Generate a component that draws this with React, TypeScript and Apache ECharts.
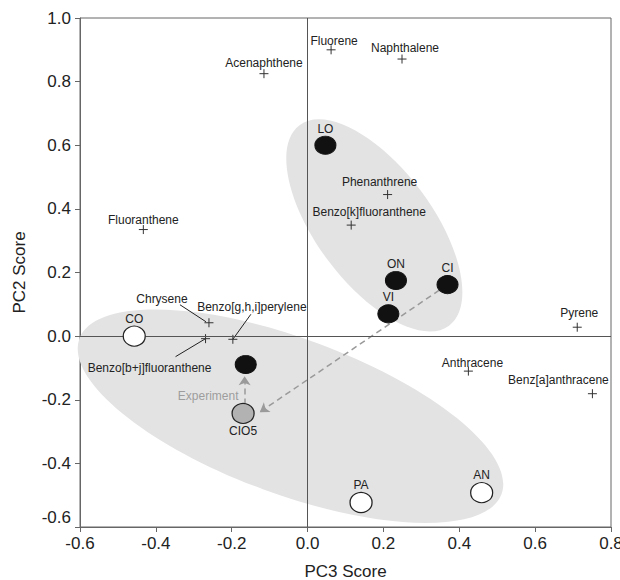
import React, { useEffect, useRef } from "react";
import * as echarts from "echarts";

// ---- Data ----
const compoundNames = [
  "Acenaphthene",
  "Fluorene",
  "Naphthalene",
  "Phenanthrene",
  "Benzo[k]fluoranthene",
  "Fluoranthene",
  "Chrysene",
  "Benzo[g,h,i]perylene",
  "Benzo[b+j]fluoranthene",
  "Pyrene",
  "Anthracene",
  "Benz[a]anthracene",
];
const compoundPC3 = [-0.115, 0.062, 0.249, 0.211, 0.115, -0.433, -0.26, -0.197, -0.269, 0.711, 0.424, 0.751];
const compoundPC2 = [0.825, 0.9, 0.871, 0.445, 0.349, 0.335, 0.042, -0.01, -0.008, 0.028, -0.11, -0.181];

const sampleNames = ["LO", "ON", "CI", "VI", "", "CIO5", "CO", "PA", "AN"];
const samplePC3 = [0.047, 0.233, 0.369, 0.213, -0.163, -0.17, -0.457, 0.141, 0.459];
const samplePC2 = [0.6, 0.175, 0.162, 0.07, -0.089, -0.243, 0.0, -0.523, -0.492];
const sampleGroup = ["dark", "dark", "dark", "dark", "dark", "treated", "light", "light", "light"];

// cluster ellipse centres (data units)
const clusterPC3 = [0.176, -0.045];
const clusterPC2 = [0.348, -0.252];

// arrows (data units)
const arrowFrom = [
  [0.369, 0.162],
  [-0.166, -0.215],
];
const arrowTo = [
  [-0.126, -0.239],
  [-0.166, -0.126],
];
const annotationText = ["Experiment"];
const annotationPC3 = [-0.182];
const annotationPC2 = [-0.189];

const xTicks = { min: -0.6, max: 0.8, interval: 0.2 };
const yTicks = { min: -0.6, max: 1.0, interval: 0.2 };

// ---- Layout / style (not data) ----
const FONT = "'Liberation Sans', Arial, sans-serif";
const TEXT = "#222";
const ellipseShapes = [
  { rx: 125, ry: 58, angle: 53.3 },
  { rx: 225, ry: 78, angle: 20.2 },
];
// label shifts (px) for labels placed above their cross
const compoundLabelOffset: Record<string, [number, number]> = {
  Acenaphthene: [0, 0],
  Fluorene: [3, 2],
  Naphthalene: [3, 0],
  Phenanthrene: [-8, -2],
  "Benzo[k]fluoranthene": [18, -2],
  Fluoranthene: [0, 1],
  Pyrene: [2, -3],
  Anthracene: [4, 3],
  "Benz[a]anthracene": [-34, -3],
};
// label centre offsets (px) from their cross, for labels with leader lines
const leaderOffset: Record<string, [number, number]> = {
  Chrysene: [-47, -24],
  "Benzo[g,h,i]perylene": [19, -32],
  "Benzo[b+j]fluoranthene": [-56, 29],
};
// leader line segment (px, from the cross)
const leaderLine: Record<string, [number, number, number, number]> = {
  Chrysene: [-29, -18, -3, -1],
  "Benzo[g,h,i]perylene": [18, -25, 0, 0],
  "Benzo[b+j]fluoranthene": [-30, 18, 0, 0],
};
const groupStyle: Record<string, any> = {
  dark: { color: "#111", borderColor: "#111", borderWidth: 1, size: [21, 18] },
  treated: { color: "#b2b2b2", borderColor: "#222", borderWidth: 1.2, size: [22, 20] },
  light: { color: "#fff", borderColor: "#222", borderWidth: 1.2, size: [22, 20] },
};

export default function App() {
  const ref = useRef<HTMLDivElement>(null);

  useEffect(() => {
    document.body.style.margin = "0";
    if (!ref.current) return;
    const chart = echarts.init(ref.current, null, { renderer: "svg" });

    const compoundData = compoundNames.map((n, i) => {
      const lead = leaderOffset[n];
      return {
        name: n,
        value: [compoundPC3[i], compoundPC2[i]],
        label: { position: lead ? "inside" : "top" },
      };
    });

    const leaderIdx = compoundNames
      .map((n, i) => (leaderLine[n] ? i : -1))
      .filter((i) => i >= 0);

    const sampleData = sampleNames.map((n, i) => {
      const g = groupStyle[sampleGroup[i]];
      return {
        name: n,
        value: [samplePC3[i], samplePC2[i]],
        symbolSize: g.size,
        itemStyle: { color: g.color, borderColor: g.borderColor, borderWidth: g.borderWidth, opacity: 1 },
        label: { position: n === "CIO5" ? "bottom" : "top" },
      };
    });

    const option: any = {
      animation: false,
      textStyle: { fontFamily: FONT },
      grid: {
        left: 80,
        right: 9,
        top: 18,
        bottom: 53,
        containLabel: false,
        outerBoundsMode: "none",
        show: true,
        borderColor: "#666",
        borderWidth: 1,
        backgroundColor: "transparent",
      },
      xAxis: {
        type: "value",
        min: xTicks.min,
        max: xTicks.max,
        interval: xTicks.interval,
        name: "PC3 Score",
        nameLocation: "middle",
        nameGap: 36,
        nameTextStyle: { fontSize: 17, color: TEXT, fontFamily: FONT },
        axisLine: { show: true, onZero: false, lineStyle: { color: "#666", width: 1 } },
        axisTick: { show: true, inside: false, length: 5, lineStyle: { color: "#666" } },
        axisLabel: {
          fontSize: 17,
          color: TEXT,
          fontFamily: FONT,
          margin: 8,
          formatter: (v: number) => v.toFixed(1),
        },
        splitLine: { show: false },
      },
      yAxis: {
        type: "value",
        min: yTicks.min,
        max: yTicks.max,
        interval: yTicks.interval,
        name: "PC2 Score",
        nameLocation: "middle",
        nameGap: 52,
        nameRotate: 90,
        nameTextStyle: { fontSize: 17, color: TEXT, fontFamily: FONT },
        axisLine: { show: true, onZero: false, lineStyle: { color: "#666", width: 1 } },
        axisTick: { show: true, inside: false, length: 5, lineStyle: { color: "#666" } },
        axisLabel: {
          fontSize: 17,
          color: TEXT,
          fontFamily: FONT,
          margin: 9,
          formatter: (v: number) => {
            const s = v.toFixed(1);
            return v <= yTicks.min + 1e-9 ? `{up|${s}}` : s;
          },
          rich: {
            up: { fontSize: 17, color: TEXT, fontFamily: FONT, padding: [0, 0, 20, 0] },
          },
        },
        splitLine: { show: false },
      },
      series: [
        {
          type: "custom",
          z: 1,
          silent: true,
          data: clusterPC3.map((x, i) => [x, clusterPC2[i]]),
          renderItem: (params: any, api: any) => {
            const c = api.coord([api.value(0), api.value(1)]);
            const e = ellipseShapes[params.dataIndex];
            return {
              type: "ellipse",
              x: c[0],
              y: c[1],
              rotation: (-e.angle * Math.PI) / 180,
              shape: { cx: 0, cy: 0, rx: e.rx, ry: e.ry },
              style: { fill: "#e3e3e3", stroke: null },
            };
          },
        },
        {
          type: "custom",
          z: 2,
          silent: true,
          data: leaderIdx.map((i) => [compoundPC3[i], compoundPC2[i], i]),
          renderItem: (params: any, api: any) => {
            const c = api.coord([api.value(0), api.value(1)]);
            const n = compoundNames[api.value(2)];
            const l = leaderLine[n];
            return {
              type: "line",
              shape: { x1: c[0] + l[0], y1: c[1] + l[1], x2: c[0] + l[2], y2: c[1] + l[3] },
              style: { stroke: "#222", lineWidth: 1 },
            };
          },
        },
        {
          type: "scatter",
          z: 3,
          symbol: "path://M0,5L10,5M5,0L5,10",
          symbolSize: 9,
          itemStyle: { color: "transparent", borderColor: "#333", borderWidth: 1, opacity: 1 },
          label: {
            show: true,
            formatter: "{b}",
            fontSize: 12,
            color: TEXT,
            fontFamily: FONT,
            distance: 0,
          },
          labelLayout: (params: any) => {
            const n = compoundNames[params.dataIndex];
            const o = leaderOffset[n] || compoundLabelOffset[n] || [0, 0];
            return { dx: o[0], dy: o[1] };
          },
          data: compoundData,
          markLine: {
            silent: true,
            symbol: ["none", "none"],
            label: { show: false },
            lineStyle: { color: "#555", width: 1, type: "solid" },
            data: [{ xAxis: 0 }, { yAxis: 0 }],
          },
        },
        {
          type: "lines",
          coordinateSystem: "cartesian2d",
          z: 4,
          silent: true,
          symbol: ["none", "arrow"],
          symbolSize: 9,
          lineStyle: { color: "#9a9a9a", width: 1.5, type: [6, 4], opacity: 1 },
          data: arrowFrom.map((f, i) => ({ coords: [f, arrowTo[i]] })),
        },
        {
          type: "scatter",
          z: 5,
          symbol: "circle",
          label: {
            show: true,
            formatter: "{b}",
            fontSize: 12,
            color: TEXT,
            fontFamily: FONT,
            distance: 1,
          },
          data: sampleData,
        },
        {
          type: "scatter",
          z: 5,
          symbolSize: 0,
          silent: true,
          label: {
            show: true,
            position: "left",
            distance: 0,
            formatter: "{b}",
            fontSize: 12,
            color: "#8a8a8a",
            fontFamily: FONT,
          },
          data: annotationText.map((t, i) => ({ name: t, value: [annotationPC3[i], annotationPC2[i]] })),
        },
      ],
    };

    chart.setOption(option);
    return () => chart.dispose();
  }, []);

  return <div ref={ref} style={{ width: 620, height: 580 }} />;
}
